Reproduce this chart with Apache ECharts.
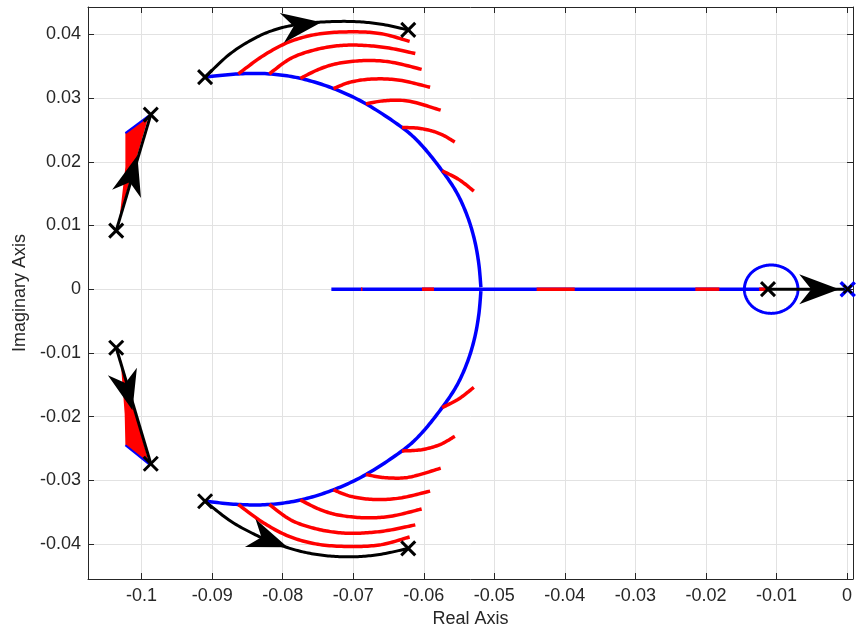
<!DOCTYPE html>
<html>
<head>
<meta charset="utf-8">
<script src="https://cdn.jsdelivr.net/npm/echarts@6/dist/echarts.min.js"></script>
<style>
  html, body { margin: 0; padding: 0; background: #ffffff; }
  #chart { width: 856px; height: 630px; }
</style>
</head>
<body>
<div id="chart"></div>
<script>
// ---- axis ticks ----
const xTicks = [-0.1, -0.09, -0.08, -0.07, -0.06, -0.05, -0.04, -0.03, -0.02, -0.01, 0];
const yTicks = [-0.04, -0.03, -0.02, -0.01, 0, 0.01, 0.02, 0.03, 0.04];

// ---- open-loop poles (x markers) ----
const blackPoles = [
  [-0.0910, 0.0333], [-0.0622, 0.0407], [-0.0987, 0.0274], [-0.1036, 0.0092],
  [-0.1036, -0.0092], [-0.0987, -0.0274], [-0.0910, -0.0333], [-0.0622, -0.0407],
  [-0.0112, 0]
];
const originBluePoles = [[0.0001, 0]];
const originBlackPoles = [[0.0001, 0]];

// ---- blue locus: main branch pair ----
const blueUpperArc = [
  [-0.0910, 0.0333], [-0.0863, 0.0338], [-0.0819, 0.0338], [-0.0775, 0.0331],
  [-0.0728, 0.0315], [-0.0682, 0.0291], [-0.0631, 0.0254], [-0.0603, 0.0226],
  [-0.0574, 0.0186], [-0.0553, 0.0151], [-0.0538, 0.0114], [-0.0528, 0.0077],
  [-0.0522, 0.0040], [-0.0519, 0.0003]
];
const blueLowerArc = [
  [-0.0910, -0.0333], [-0.0863, -0.0338], [-0.0819, -0.0338], [-0.0775, -0.0331],
  [-0.0728, -0.0315], [-0.0682, -0.0291], [-0.0631, -0.0254], [-0.0603, -0.0226],
  [-0.0574, -0.0186], [-0.0553, -0.0151], [-0.0538, -0.0114], [-0.0528, -0.0077],
  [-0.0522, -0.0040], [-0.0519, -0.0003]
];
const blueRealSegment = [[-0.0731, 0], [-0.0112, 0]];
const blueLoop = [
  [-0.00695, 0], [-0.00724, 0.00145], [-0.00806, 0.00269], [-0.00930, 0.00351],
  [-0.01075, 0.0038], [-0.01220, 0.00351], [-0.01344, 0.00269], [-0.01426, 0.00145],
  [-0.01455, 0], [-0.01426, -0.00145], [-0.01344, -0.00269], [-0.01220, -0.00351],
  [-0.01075, -0.0038], [-0.00930, -0.00351], [-0.00806, -0.00269], [-0.00724, -0.00145],
  [-0.00695, 0]
];

// ---- red loci branching from the main arcs ----
const redUpperArcs = [
  [[-0.0863, 0.0338], [-0.0827, 0.0367], [-0.0789, 0.0389], [-0.0747, 0.0401], [-0.0700, 0.0404], [-0.0660, 0.0401], [-0.0620, 0.0389]],
  [[-0.0819, 0.0338], [-0.0789, 0.0362], [-0.0757, 0.0375], [-0.0723, 0.0382], [-0.0690, 0.0383], [-0.0652, 0.0379], [-0.0612, 0.0370]],
  [[-0.0775, 0.0331], [-0.0747, 0.0346], [-0.0719, 0.0355], [-0.0680, 0.0359], [-0.0644, 0.0356], [-0.0603, 0.0345]],
  [[-0.0728, 0.0315], [-0.0704, 0.0325], [-0.0672, 0.0330], [-0.0634, 0.0328], [-0.0591, 0.0317]],
  [[-0.0682, 0.0291], [-0.0654, 0.0296], [-0.0620, 0.0295], [-0.0576, 0.0281]],
  [[-0.0631, 0.0254], [-0.0603, 0.0252], [-0.0577, 0.0244], [-0.0556, 0.0231]],
  [[-0.0574, 0.0186], [-0.0550, 0.0172], [-0.0529, 0.0154]]
];
const redLowerArcs = [
  [[-0.0863, -0.0338], [-0.0827, -0.0367], [-0.0789, -0.0389], [-0.0747, -0.0401], [-0.0700, -0.0404], [-0.0660, -0.0401], [-0.0620, -0.0389]],
  [[-0.0819, -0.0338], [-0.0789, -0.0362], [-0.0757, -0.0375], [-0.0723, -0.0382], [-0.0690, -0.0383], [-0.0652, -0.0379], [-0.0612, -0.0370]],
  [[-0.0775, -0.0331], [-0.0747, -0.0346], [-0.0719, -0.0355], [-0.0680, -0.0359], [-0.0644, -0.0356], [-0.0603, -0.0345]],
  [[-0.0728, -0.0315], [-0.0704, -0.0325], [-0.0672, -0.0330], [-0.0634, -0.0328], [-0.0591, -0.0317]],
  [[-0.0682, -0.0291], [-0.0654, -0.0296], [-0.0620, -0.0295], [-0.0576, -0.0281]],
  [[-0.0631, -0.0254], [-0.0603, -0.0252], [-0.0577, -0.0244], [-0.0556, -0.0231]],
  [[-0.0574, -0.0186], [-0.0550, -0.0172], [-0.0529, -0.0154]]
];
const redRealSegments = [
  [-0.0689, -0.0687], [-0.06025, -0.05855], [-0.0440, -0.0386], [-0.0215, -0.0181], [-0.01245, -0.0112]
];
const redUpperFan = [[-0.1023, 0.0245], [-0.0990, 0.0272], [-0.1031, 0.0115], [-0.1023, 0.0192]];
const redLowerFan = [[-0.1030, -0.0108], [-0.1024, -0.0196], [-0.1023, -0.0245], [-0.0989, -0.0275]];
const blueUpperFanEdge = [[-0.1023, 0.0245], [-0.0990, 0.0272]];
const blueLowerFanEdge = [[-0.1023, -0.0245], [-0.0989, -0.0275]];

// ---- black direction paths ----
const blackUpperCurve = [
  [-0.0910, 0.0333], [-0.0874, 0.0370], [-0.0836, 0.0396], [-0.0803, 0.0410], [-0.0769, 0.0417],
  [-0.0733, 0.0420], [-0.0696, 0.0420], [-0.0660, 0.0416], [-0.0622, 0.0407]
];
const blackLowerCurve = [
  [-0.0910, -0.0333], [-0.0874, -0.0364], [-0.0836, -0.0387], [-0.0803, -0.0402], [-0.0769, -0.0413],
  [-0.0733, -0.0419], [-0.0696, -0.0420], [-0.0660, -0.0416], [-0.0622, -0.0407]
];
const blackLeftUpper = [[-0.1036, 0.0092], [-0.0987, 0.0274]];
const blackLeftLower = [[-0.1036, -0.0092], [-0.0987, -0.0274]];
const blackRealPath = [[-0.0112, 0], [0.0001, 0]];
// arrow heads: tip x, tip y, a point behind the tip on the same path
const arrowHeads = [
  [-0.0745, 0.0419, -0.0803, 0.0410],
  [-0.0793, -0.0405, -0.0836, -0.0387],
  [-0.1006, 0.0210, -0.1036, 0.0092],
  [-0.1013, -0.0190, -0.1036, -0.0092],
  [-0.0011, 0, -0.0112, 0]
];

// ---- axis extents ----
const X_MIN = -0.1076, X_MAX = 0.00085;
const Y_MIN = -0.0455, Y_MAX = 0.0443;

const AXIS_COLOR = '#262626';
const GRID_COLOR = '#e2e2e2';
const FONT = '"Liberation Sans", Arial, Helvetica, sans-serif';
const fmt = v => String(parseFloat(Number(v).toFixed(4)));

// Catmull-Rom pass through screen points so curves bend smoothly at every vertex
function splinePixels(pts, closed) {
  const n = pts.length;
  if (n < 3) return pts.slice();
  const m = n - 1;
  const get = i => closed ? pts[((i % m) + m) % m] : pts[Math.max(0, Math.min(n - 1, i))];
  const out = [];
  const STEPS = 14;
  for (let i = 0; i < n - 1; i++) {
    const p0 = get(i - 1), p1 = get(i), p2 = get(i + 1), p3 = get(i + 2);
    for (let s = 0; s < STEPS; s++) {
      const t = s / STEPS, t2 = t * t, t3 = t2 * t;
      const c = k => 0.5 * (2 * p1[k] + (-p0[k] + p2[k]) * t +
        (2 * p0[k] - 5 * p1[k] + 4 * p2[k] - p3[k]) * t2 +
        (-p0[k] + 3 * p1[k] - 3 * p2[k] + p3[k]) * t3);
      out.push([c(0), c(1)]);
    }
  }
  out.push(pts[n - 1]);
  return out;
}

function curveSeries(curves, color, width, z, closed) {
  return {
    type: 'custom', coordinateSystem: 'cartesian2d', z: z, silent: true, animation: false,
    data: curves.map(c => c[0]),
    renderItem: function (params, api) {
      const px = curves[params.dataIndex].map(v => api.coord(v));
      return {
        type: 'polyline',
        shape: { points: splinePixels(px, closed) },
        style: { stroke: color, lineWidth: width, fill: null, lineJoin: 'round' }
      };
    }
  };
}

function crossSeries(data, color, half, width, z) {
  return {
    type: 'custom', coordinateSystem: 'cartesian2d', data: data, z: z, silent: true, animation: false,
    renderItem: function (params, api) {
      const p = api.coord([api.value(0), api.value(1)]);
      return {
        type: 'group', children: [
          { type: 'line', shape: { x1: p[0] - half, y1: p[1] - half, x2: p[0] + half, y2: p[1] + half }, style: { stroke: color, lineWidth: width } },
          { type: 'line', shape: { x1: p[0] - half, y1: p[1] + half, x2: p[0] + half, y2: p[1] - half }, style: { stroke: color, lineWidth: width } }
        ]
      };
    }
  };
}

function fanSeries(polys, z) {
  return {
    type: 'custom', coordinateSystem: 'cartesian2d', z: z, silent: true, animation: false,
    data: polys.map(p => p[0]),
    renderItem: function (params, api) {
      const pts = polys[params.dataIndex].map(v => api.coord(v));
      return { type: 'polygon', shape: { points: pts }, style: { fill: '#ff0000' } };
    }
  };
}

const arrowSeries = {
  type: 'custom', coordinateSystem: 'cartesian2d', z: 8, silent: true, animation: false,
  dimensions: ['x', 'y', 'bx', 'by'], encode: { x: 0, y: 1 },
  data: arrowHeads,
  renderItem: function (params, api) {
    const tip = api.coord([api.value(0), api.value(1)]);
    const back = api.coord([api.value(2), api.value(3)]);
    const dx = tip[0] - back[0], dy = tip[1] - back[1];
    const len = Math.hypot(dx, dy) || 1;
    const ux = dx / len, uy = dy / len, nx = -uy, ny = ux;
    const L = 40, W = 15, N = 28;
    const pts = [
      tip,
      [tip[0] - L * ux + W * nx, tip[1] - L * uy + W * ny],
      [tip[0] - N * ux, tip[1] - N * uy],
      [tip[0] - L * ux - W * nx, tip[1] - L * uy - W * ny]
    ];
    return { type: 'polygon', shape: { points: pts }, style: { fill: '#000000' } };
  }
};

function valueAxis(isX, position, withLabels) {
  const ticks = isX ? xTicks : yTicks;
  return {
    type: 'value', position: position,
    min: isX ? X_MIN : Y_MIN, max: isX ? X_MAX : Y_MAX,
    axisLine: { show: true, onZero: false, lineStyle: { color: AXIS_COLOR, width: 1 } },
    axisTick: { show: true, inside: true, length: 6, customValues: ticks, lineStyle: { color: AXIS_COLOR, width: 1 } },
    axisLabel: {
      show: withLabels, customValues: ticks, formatter: fmt, color: AXIS_COLOR,
      fontSize: 18, fontFamily: FONT, margin: isX ? 8 : 7, hideOverlap: false
    },
    splitLine: { show: withLabels, lineStyle: { color: GRID_COLOR, width: 1 } },
    name: withLabels ? (isX ? 'Real Axis' : 'Imaginary Axis') : '',
    nameLocation: 'middle',
    nameGap: isX ? 26 : 58,
    nameTextStyle: { color: AXIS_COLOR, fontSize: 18, fontFamily: FONT }
  };
}

const series = [];
// blue locus
series.push(curveSeries([blueUpperArc, blueLowerArc, blueRealSegment], '#0000ff', 3.5, 2, false));
series.push(curveSeries([blueLoop], '#0000ff', 3, 2, true));
// red loci
series.push(curveSeries(redUpperArcs.concat(redLowerArcs), '#ff0000', 3.5, 3, false));
series.push(curveSeries(redRealSegments.map(s => [[s[0], 0], [s[1], 0]]), '#ff0000', 3.5, 3, false));
series.push(fanSeries([redUpperFan, redLowerFan], 3));
series.push(curveSeries([blueUpperFanEdge, blueLowerFanEdge], '#0000ff', 2, 3, false));
// black direction paths
series.push(curveSeries([blackUpperCurve, blackLowerCurve, blackLeftUpper, blackLeftLower, blackRealPath], '#000000', 3, 5, false));
series.push(arrowSeries);
// pole markers
series.push(crossSeries(originBluePoles, '#0000ff', 7, 3.5, 9));
series.push(crossSeries(originBlackPoles, '#000000', 4, 2.5, 10));
series.push(crossSeries(blackPoles, '#000000', 7, 3, 10));

const chart = echarts.init(document.getElementById('chart'), null, { renderer: 'canvas' });
chart.setOption({
  backgroundColor: '#ffffff',
  animation: false,
  grid: { left: 88, right: 3, top: 7, bottom: 51, containLabel: false, outerBoundsMode: 'none' },
  xAxis: [valueAxis(true, 'bottom', true), valueAxis(true, 'top', false)],
  yAxis: [valueAxis(false, 'left', true), valueAxis(false, 'right', false)],
  series: series
});
</script>
</body>
</html>
